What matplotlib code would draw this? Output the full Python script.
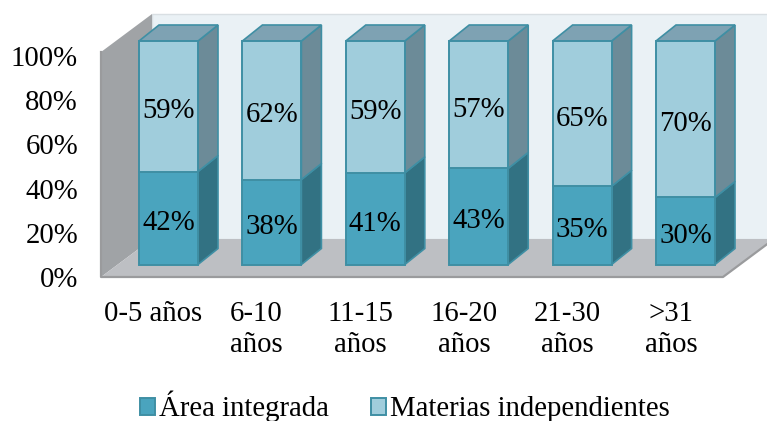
import matplotlib
matplotlib.use("Agg")
import matplotlib.pyplot as plt
import numpy as np

plt.rcParams['font.family'] = ['Liberation Serif', 'DejaVu Serif']

categories = ["0-5 años", "6-10\naños", "11-15\naños", "16-20\naños", "21-30\naños", ">31\naños"]
area_integrada = [42, 38, 41, 43, 35, 30]
materias_indep = [59, 62, 59, 57, 65, 70]
y_ticks = [0, 20, 40, 60, 80, 100]

W, H = 767, 421
DPI = 100
FS = 20.7

C_DARK, C_LIGHT = "#4AA4BE", "#A0CDDC"
C_DARK_SIDE, C_LIGHT_SIDE = "#327283", "#6C8B98"
C_TOP = "#7EA2B3"
C_EDGE = "#3F8FA4"


def axes_px(fig, left, right, top, bottom):
    return fig.add_axes([left / W, 1 - bottom / H, (right - left) / W, (bottom - top) / H])


fig = plt.figure(figsize=(W / DPI, H / DPI), dpi=DPI, facecolor="white")

# Walls / floor plane, carrying the tick labels
axw = axes_px(fig, 101, 723, 56, 277)
axw.set_xlim(-0.5, 5.5)
axw.set_ylim(0, 100)
axw.patch.set_visible(False)
for s in axw.spines.values():
    s.set_visible(False)
axw.set_yticks(y_ticks)
axw.set_yticklabels([f"{t}%" for t in y_ticks], fontsize=FS, color="black")
axw.set_xticks(range(len(categories)))
axw.set_xticklabels(categories, fontsize=FS, color="black", linespacing=1.23)
axw.tick_params(axis="both", length=0)
axw.tick_params(axis="y", pad=16.5)
axw.tick_params(axis="x", pad=17.5)

wdx = 51 / (622 / 6)
wdy = 38 / 2.21
wtop = 101.8
x0, x1 = -0.5, 5.5
axw.fill([x0 + wdx, x1 + wdx, x1 + wdx, x0 + wdx], [wdy, wdy, wtop + wdy, wtop + wdy],
         facecolor="#EAF1F5", edgecolor="#D9DFE3", lw=1, clip_on=False, zorder=1)
axw.fill([x0, x0 + wdx, x0 + wdx, x0], [0, wdy, wtop + wdy, wtop],
         facecolor="#A0A3A6", edgecolor="none", clip_on=False, zorder=2)
axw.fill([x0, x1, x1 + wdx, x0 + wdx], [0, 0, wdy, wdy],
         facecolor="#BDBFC3", edgecolor="none", clip_on=False, zorder=2)
axw.plot([x0, x0, x1, x1 + wdx], [wtop, 0, 0, wdy], color="#9A9B9D", lw=1.6, clip_on=False, zorder=3)

# Bars plane
ax = axes_px(fig, 116.8, 737.2, 41, 264.5)
ax.set_xlim(-0.5, 5.5)
ax.set_ylim(0, 100)
ax.axis("off")
ax.patch.set_visible(False)

x = np.arange(len(categories))
a = np.array(area_integrada, dtype=float)
m = np.array(materias_indep, dtype=float)
total = a + m
low = a / total * 100
bw = 59 / 103.4
ddx = 20 / 103.4
ddy = 16 / 2.235

b1 = ax.bar(x, low, bw, color=C_DARK, edgecolor=C_EDGE, lw=1.4, label="Área integrada", zorder=4, clip_on=False)
b2 = ax.bar(x, 100 - low, bw, bottom=low, color=C_LIGHT, edgecolor=C_EDGE, lw=1.4,
            label="Materias independientes", zorder=4, clip_on=False)

for xi, yi in zip(x, low):
    r = xi + bw / 2
    l = xi - bw / 2
    ax.fill([r, r + ddx, r + ddx, r], [0, ddy, yi + ddy, yi], facecolor=C_DARK_SIDE,
            edgecolor=C_EDGE, lw=1.2, clip_on=False, zorder=3)
    ax.fill([r, r + ddx, r + ddx, r], [yi, yi + ddy, 100 + ddy, 100], facecolor=C_LIGHT_SIDE,
            edgecolor=C_EDGE, lw=1.2, clip_on=False, zorder=3)
    ax.fill([l, r, r + ddx, l + ddx], [100, 100, 100 + ddy, 100 + ddy], facecolor=C_TOP,
            edgecolor=C_EDGE, lw=1.2, clip_on=False, zorder=3)

texts = ax.bar_label(b1, labels=[f"{v}%" for v in area_integrada], label_type="center", fontsize=FS, color="black", zorder=6)
texts += ax.bar_label(b2, labels=[f"{v}%" for v in materias_indep], label_type="center", fontsize=FS, color="black", zorder=6)
for t in texts:
    t.xyann = (0, -3.6)

handles, labels = ax.get_legend_handles_labels()
fig.legend(handles, labels, ncol=2, loc="lower left", bbox_to_anchor=(134 / W, -7 / H), frameon=False,
           fontsize=FS, handlelength=0.53, handleheight=0.53, handletextpad=0.15, columnspacing=1.45,
           borderpad=0.2, borderaxespad=0)

fig.savefig("out.png", dpi=DPI)
